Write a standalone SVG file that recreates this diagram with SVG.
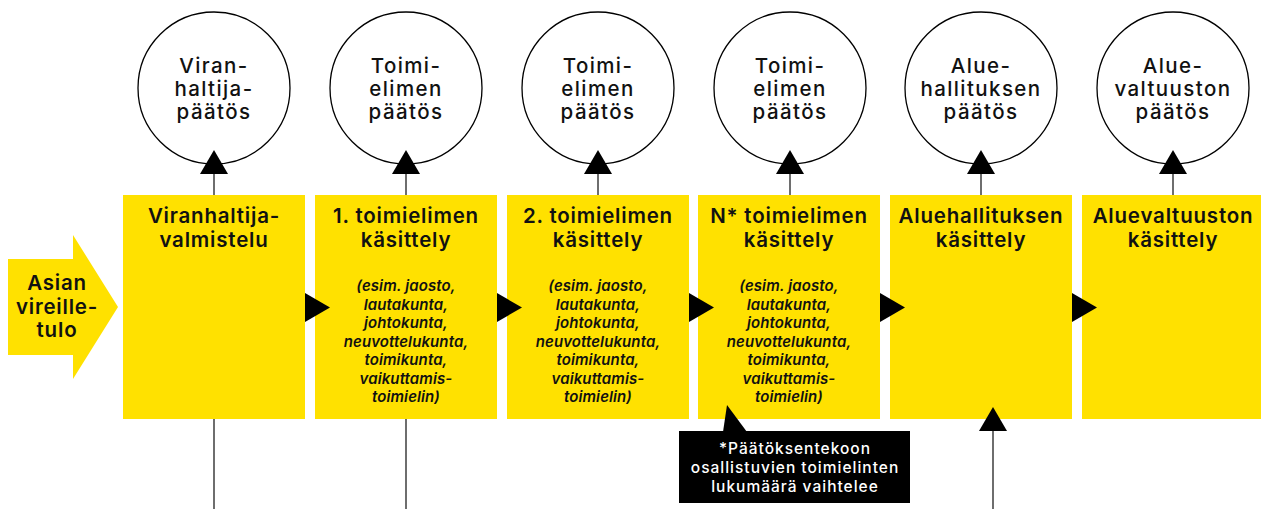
<svg xmlns="http://www.w3.org/2000/svg" width="1261" height="509" viewBox="0 0 1261 509">
<style>
.box{fill:#FFE100}
.circ{fill:#fff;stroke:#000;stroke-width:1.3}
.ln{stroke:#4a4a4a;stroke-width:1.6;fill:none}
.head{fill:#000}
.t{font-family:Inter,"Noto Sans","Liberation Sans",sans-serif;font-size:20.5px;font-weight:600;letter-spacing:0.8px;fill:#111;text-anchor:middle}
.ct{font-family:Inter,"Noto Sans","Liberation Sans",sans-serif;font-size:20.5px;font-weight:500;letter-spacing:1.4px;fill:#111;text-anchor:middle}
.it{font-family:Inter,"Noto Sans","Liberation Sans",sans-serif;font-size:15px;font-weight:600;font-style:italic;letter-spacing:0.1px;fill:#111;text-anchor:middle}
.wt{font-family:Inter,"Noto Sans","Liberation Sans",sans-serif;font-size:15.5px;font-weight:500;letter-spacing:1px;fill:#fff;text-anchor:middle}
</style>
<g id="connectors">
<line class="ln" x1="214" y1="172" x2="214" y2="195"/>
<line class="ln" x1="406" y1="172" x2="406" y2="195"/>
<line class="ln" x1="598" y1="172" x2="598" y2="195"/>
<line class="ln" x1="790" y1="172" x2="790" y2="195"/>
<line class="ln" x1="981" y1="172" x2="981" y2="195"/>
<line class="ln" x1="1173" y1="172" x2="1173" y2="195"/>
<line class="ln" x1="214" y1="419" x2="214" y2="509"/>
<line class="ln" x1="406" y1="419" x2="406" y2="509"/>
<line class="ln" x1="993" y1="430" x2="993" y2="509"/>
</g>
<g id="input">
<polygon class="box" points="8,259 73,259 73,235 118,307 73,379 73,355 8,355"/>
<text class="t" x="57" y="290">Asian</text>
<text class="t" x="57" y="314">vireille-</text>
<text class="t" x="57" y="337">tulo</text>
</g>
<g id="c1"><circle class="circ" cx="214" cy="88" r="76"/>
<text class="ct" x="214" y="73">Viran-</text><text class="ct" x="214" y="96">haltija-</text><text class="ct" x="214" y="119">päätös</text></g>
<g id="c2"><circle class="circ" cx="406" cy="88" r="76"/>
<text class="ct" x="406" y="73">Toimi-</text><text class="ct" x="406" y="96">elimen</text><text class="ct" x="406" y="119">päätös</text></g>
<g id="c3"><circle class="circ" cx="598" cy="88" r="76"/>
<text class="ct" x="598" y="73">Toimi-</text><text class="ct" x="598" y="96">elimen</text><text class="ct" x="598" y="119">päätös</text></g>
<g id="c4"><circle class="circ" cx="790" cy="88" r="76"/>
<text class="ct" x="790" y="73">Toimi-</text><text class="ct" x="790" y="96">elimen</text><text class="ct" x="790" y="119">päätös</text></g>
<g id="c5"><circle class="circ" cx="981" cy="88" r="76"/>
<text class="ct" x="981" y="73">Alue-</text><text class="ct" x="981" y="96">hallituksen</text><text class="ct" x="981" y="119">päätös</text></g>
<g id="c6"><circle class="circ" cx="1173" cy="88" r="76"/>
<text class="ct" x="1173" y="73">Alue-</text><text class="ct" x="1173" y="96">valtuuston</text><text class="ct" x="1173" y="119">päätös</text></g>
<g id="heads">
<polygon class="head" points="214,150 228,174 200,174"/>
<polygon class="head" points="406,150 420,174 392,174"/>
<polygon class="head" points="598,150 612,174 584,174"/>
<polygon class="head" points="790,150 804,174 776,174"/>
<polygon class="head" points="981,150 995,174 967,174"/>
<polygon class="head" points="1173,150 1187,174 1159,174"/>
</g>
<g id="b1"><rect class="box" x="123" y="195" width="182" height="224"/>
<text class="t" x="214" y="223">Viranhaltija-</text><text class="t" x="214" y="247">valmistelu</text></g>
<g id="b2"><rect class="box" x="315" y="195" width="182" height="224"/>
<text class="t" x="406" y="223">1. toimielimen</text><text class="t" x="406" y="247">käsittely</text>
<text class="it" x="406" y="291">(esim. jaosto,</text><text class="it" x="406" y="309.5">lautakunta,</text><text class="it" x="406" y="328">johtokunta,</text><text class="it" x="406" y="346.5">neuvottelukunta,</text><text class="it" x="406" y="365">toimikunta,</text><text class="it" x="406" y="383.5">vaikuttamis-</text><text class="it" x="406" y="402">toimielin)</text></g>
<g id="b3"><rect class="box" x="507" y="195" width="182" height="224"/>
<text class="t" x="598" y="223">2. toimielimen</text><text class="t" x="598" y="247">käsittely</text>
<text class="it" x="598" y="291">(esim. jaosto,</text><text class="it" x="598" y="309.5">lautakunta,</text><text class="it" x="598" y="328">johtokunta,</text><text class="it" x="598" y="346.5">neuvottelukunta,</text><text class="it" x="598" y="365">toimikunta,</text><text class="it" x="598" y="383.5">vaikuttamis-</text><text class="it" x="598" y="402">toimielin)</text></g>
<g id="b4"><rect class="box" x="698" y="195" width="182" height="224"/>
<text class="t" x="789" y="223">N* toimielimen</text><text class="t" x="789" y="247">käsittely</text>
<text class="it" x="789" y="291">(esim. jaosto,</text><text class="it" x="789" y="309.5">lautakunta,</text><text class="it" x="789" y="328">johtokunta,</text><text class="it" x="789" y="346.5">neuvottelukunta,</text><text class="it" x="789" y="365">toimikunta,</text><text class="it" x="789" y="383.5">vaikuttamis-</text><text class="it" x="789" y="402">toimielin)</text></g>
<g id="b5"><rect class="box" x="890" y="195" width="182" height="224"/>
<text class="t" x="981" y="223">Aluehallituksen</text><text class="t" x="981" y="247">käsittely</text></g>
<g id="b6"><rect class="box" x="1082" y="195" width="182" height="224"/>
<text class="t" x="1173" y="223">Aluevaltuuston</text><text class="t" x="1173" y="247">käsittely</text></g>
<g id="flow">
<polygon class="head" points="305,293 330,307.5 305,322"/>
<polygon class="head" points="497,293 522,307.5 497,322"/>
<polygon class="head" points="689,293 714,307.5 689,322"/>
<polygon class="head" points="880,293 905,307.5 880,322"/>
<polygon class="head" points="1072,293 1097,307.5 1072,322"/>
<polygon class="head" points="993,407 1007,431 979,431"/>
</g>
<g id="note">
<polygon class="head" points="727,405 747,432 723,432"/>
<rect x="679" y="431" width="231" height="72" fill="#000"/>
<text class="wt" x="795" y="454">*Päätöksentekoon</text>
<text class="wt" x="795" y="473">osallistuvien toimielinten</text>
<text class="wt" x="795" y="492">lukumäärä vaihtelee</text>
</g>
</svg>
